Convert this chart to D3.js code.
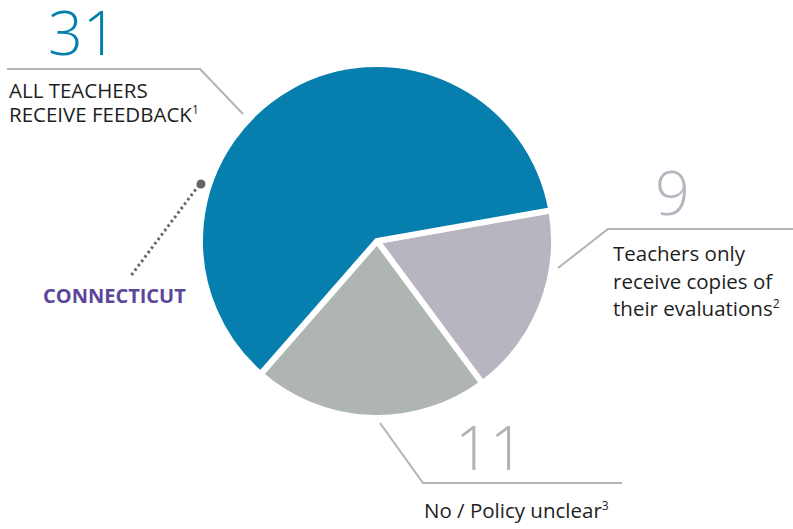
<!DOCTYPE html>
<html>
<head>
<meta charset="utf-8">
<script src="https://cdn.jsdelivr.net/npm/d3@7"></script>
<style>
  body { margin: 0; background: #fff; }
  text { font-family: "Open Sans", "Noto Sans", sans-serif; }
</style>
</head>
<body>
<div id="chart"></div>
<script>
var categories = ["All teachers receive feedback", "Teachers only receive copies", "No / Policy unclear"]
var counts = [31, 9, 11]
var colors = ["#067fae", "#b8b5c1", "#afb5b3"]
var labelLines = [
  ["ALL TEACHERS", "RECEIVE FEEDBACK"],
  ["Teachers only", "receive copies of", "their evaluations"],
  ["No / Policy unclear"]
]
var footnotes = ["1", "2", "3"]
var stateName = "CONNECTICUT"

var width = 793, height = 529
var cx = 377, cy = 241, radius = 177

var svg = d3.select("#chart")
  .append("svg")
  .attr("width", width)
  .attr("height", height)

var startDeg = 80 * Math.PI / 180

var pie = d3.pie()
  .sort(null)
  .value(function(d) { return d })
  .startAngle(startDeg)
  .endAngle(startDeg + 2 * Math.PI)

// blue slice goes counter-clockwise from the start, so put it last
var order = [1, 2, 0]
var arcs = pie(order.map(function(i) { return counts[i] }))

var arc = d3.arc().innerRadius(0).outerRadius(radius)

svg.append("g")
  .attr("transform", "translate(" + cx + "," + cy + ")")
  .selectAll("path")
  .data(arcs)
  .enter()
  .append("path")
  .attr("d", arc)
  .attr("fill", function(d, i) { return colors[order[i]] })
  .attr("stroke", "#fff")
  .attr("stroke-width", 6)
  .attr("stroke-linejoin", "miter")

// leader lines
var leaders = [
  [[7, 69], [200, 69], [243, 114]],
  [[558, 268], [608, 229], [793, 229]],
  [[380, 423], [423, 483], [622, 483]]
]
svg.selectAll(".leader")
  .data(leaders)
  .enter()
  .append("path")
  .attr("class", "leader")
  .attr("d", d3.line())
  .attr("fill", "none")
  .attr("stroke", "#b0b5b3")
  .attr("stroke-width", 2)

// big numbers
var numPos = [[48, 55], [655, 215], [455, 470]]
svg.selectAll(".num")
  .data(counts)
  .enter()
  .append("text")
  .attr("class", "num")
  .attr("x", function(d, i) { return numPos[i][0] })
  .attr("y", function(d, i) { return numPos[i][1] })
  .attr("font-size", 61)
  .attr("font-weight", 300)
  .attr("fill", function(d, i) { return colors[i] })
  .text(function(d) { return d })

// category labels
var labPos = [[9, 98, 24], [613, 261, 27.5], [424, 518, 27]]
labelLines.forEach(function(lines, i) {
  var t = svg.append("text")
    .attr("x", labPos[i][0])
    .attr("y", labPos[i][1])
    .attr("font-size", 20.5)
    .attr("fill", "#1e1e1e")
  lines.forEach(function(line, j) {
    t.append("tspan")
      .attr("x", labPos[i][0])
      .attr("y", labPos[i][1] + j * labPos[i][2])
      .text(line)
    if (j == lines.length - 1) {
      t.append("tspan")
        .attr("dy", -8)
        .attr("font-size", 12)
        .text(footnotes[i])
    }
  })
})

// Connecticut marker
svg.append("line")
  .attr("x1", 199).attr("y1", 185)
  .attr("x2", 130).attr("y2", 277)
  .attr("stroke", "#666")
  .attr("stroke-width", 3)
  .attr("stroke-dasharray", "2.5,3")
svg.append("circle")
  .attr("cx", 201).attr("cy", 184)
  .attr("r", 4.5)
  .attr("fill", "#666")
svg.append("text")
  .attr("x", 43)
  .attr("y", 303)
  .attr("font-size", 20)
  .attr("font-weight", 700)
  .attr("fill", "#5a479c")
  .text(stateName)
</script>
</body>
</html>
